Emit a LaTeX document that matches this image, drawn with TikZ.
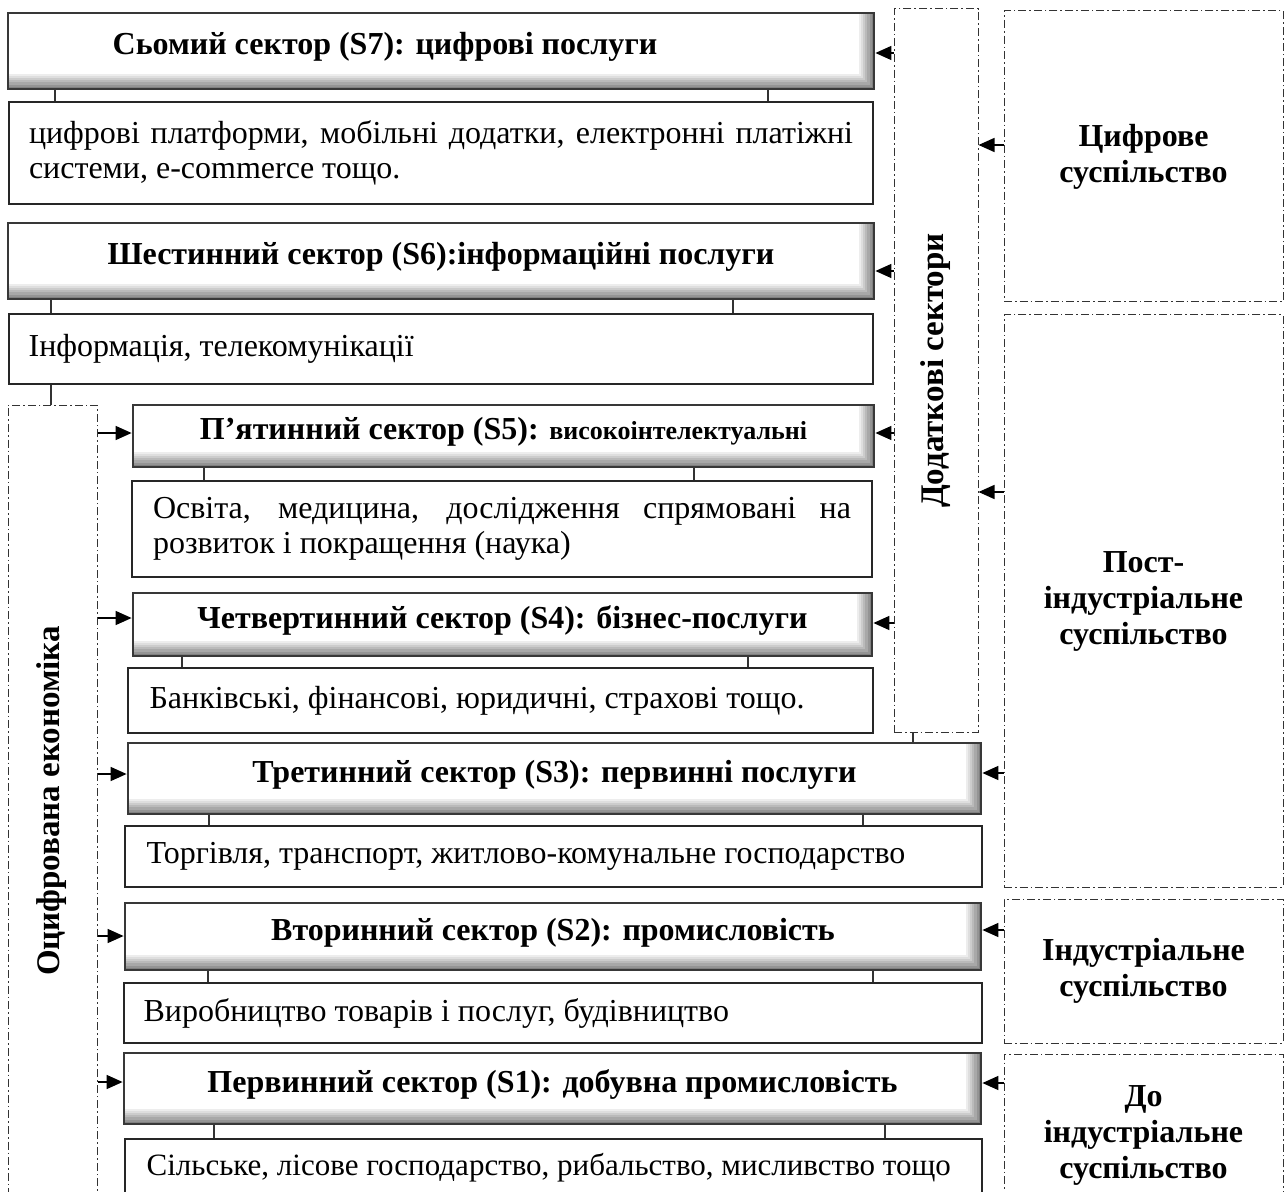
\documentclass[tikz,border=0pt]{standalone}
\usepackage{fontspec}
\setmainfont{Liberation Serif}
\usetikzlibrary{arrows.meta,fit}
\begin{document}
\begin{tikzpicture}[x=0.5pt,y=-0.5pt,
  hdr/.style={draw=black!78, line width=1.4pt, fill=white, inner sep=0pt,
    path picture={
      \foreach \k/\c in {0/50,1.1/42,2.2/34,3.3/27,4.4/20,5.5/13,6.6/7,7.7/0} {
        \fill[black!\c] (path picture bounding box.north west)
          rectangle ([xshift=-\k pt,yshift=\k pt]path picture bounding box.south east);
      }
    }},
  htext/.style={font=\bfseries\fontsize{16}{18}\selectfont, inner sep=0pt},
  desc/.style={draw=black!85, line width=0.8pt, fill=white, inner sep=0pt},
  dtext/.style={font=\fontsize{16}{17.5}\selectfont, inner sep=0pt},
  zone/.style={draw=black!80, line width=0.5pt, inner sep=0pt,
    dash pattern=on 4pt off 1.5pt on 0.8pt off 1.5pt},
  zlabel/.style={font=\bfseries\fontsize{16}{18}\selectfont, align=center, inner sep=0pt},
  arr/.style={-{Triangle[length=8pt,width=7pt]}, line width=0.75pt},
  tick/.style={line width=0.7pt, draw=black!80}
]
\useasboundingbox (0,0) rectangle (1284,1192);
\clip (0,0) rectangle (1284,1192);

% header boxes and descriptions
\node[hdr, fit={(8,13) (874,89)}] (s7) {};
\node[htext] (s7t) at ([xshift=-28pt,yshift=2pt]s7.center) {Сьомий сектор (S7): цифрові послуги};
\node[desc, fit={(9,102) (873,204)}] (d7) {};
\node[dtext, text width=412pt, align=justify] (d7t) at (d7.center)
  {цифрові платформи, мобільні додатки, електронні платіжні\linebreak системи, e-commerce тощо.};

\node[hdr, fit={(8,223) (874,299)}] (s6) {};
\node[htext] (s6t) at ([yshift=2pt]s6.center) {Шестинний сектор (S6):інформаційні послуги};
\node[desc, fit={(9,314) (873,384)}] (d6) {};
\node[dtext, anchor=west] (d6t) at ([xshift=10pt]d6.west) {Інформація, телекомунікації};

\node[hdr, fit={(133,405) (874,467)}] (s5) {};
\node[htext] (s5t) at ([yshift=2pt]s5.center)
  {П’ятинний сектор (S5): {\fontsize{13}{15}\selectfont високоінтелектуальні}};
\node[desc, fit={(132,481) (872,577)}] (d5) {};
\node[dtext, text width=349pt, align=justify] (d5t) at (d5.center)
  {Освіта, медицина, дослідження спрямовані на\linebreak розвиток і покращення (наука)};

\node[hdr, fit={(133,593) (872,656)}] (s4) {};
\node[htext] (s4t) at ([yshift=2pt]s4.center) {Четвертинний сектор (S4): бізнес-послуги};
\node[desc, fit={(128,668) (873,733)}] (d4) {};
\node[dtext, anchor=west] (d4t) at ([xshift=11pt]d4.west) {Банківські, фінансові, юридичні, страхові тощо.};

\node[hdr, fit={(128,743) (981,814)}] (s3) {};
\node[htext] (s3t) at ([yshift=2pt]s3.center) {Третинний сектор (S3): первинні послуги};
\node[desc, fit={(125,826) (982,887)}] (d3) {};
\node[dtext, anchor=west] (d3t) at ([xshift=11pt]d3.west) {Торгівля, транспорт, житлово-комунальне господарство};

\node[hdr, fit={(125,903) (981,970)}] (s2) {};
\node[htext] (s2t) at ([yshift=2pt]s2.center) {Вторинний сектор (S2): промисловість};
\node[desc, fit={(124,983) (982,1043)}] (d2) {};
\node[dtext, anchor=west] (d2t) at ([xshift=10pt]d2.west) {Виробництво товарів і послуг, будівництво};

\node[hdr, fit={(124,1053) (981,1124)}] (s1) {};
\node[htext] (s1t) at ([yshift=2pt]s1.center) {Первинний сектор (S1): добувна промисловість};
\node[desc, fit={(125,1139) (982,1197)}] (d1) {};
\node[dtext, anchor=west, font=\fontsize{15.5}{17.5}\selectfont] (d1t) at ([xshift=11pt]d1.west) {Сільське, лісове господарство, рибальство, мисливство тощо};

% zones
\node[zone, fit={(8,405) (97,1300)}] (econ) {};
\node[zlabel, rotate=90, font=\bfseries\fontsize{16.5}{18}\selectfont] (econlbl) at (52,801) {Оцифрована економіка};
\node[zone, fit={(894,9) (978,732)}] (add) {};
\node[zlabel, rotate=90, font=\bfseries\fontsize{16.5}{18}\selectfont] (addlbl) at (add.center) {Додаткові сектори};
\node[zone, fit={(1004,11) (1283,302)}] (dig) {};
\node[zlabel] (digt) at (dig.center) {Цифрове\\суспільство};
\node[zone, fit={(1004,315) (1283,887)}] (post) {};
\node[zlabel] (postt) at (post.center) {Пост-\\індустріальне\\суспільство};
\node[zone, fit={(1004,899) (1283,1043)}] (ind) {};
\node[zlabel] (indt) at (ind.center) {Індустріальне\\суспільство};
\node[zone, fit={(1004,1054) (1283,1216)}] (pre) {};
\node[zlabel] (pret) at (pre.center) {До\\індустріальне\\суспільство};

% ticks
\draw[tick] (s7.south -| 55,0) -- (d7.north -| 55,0);
\draw[tick] (s7.south -| 768,0) -- (d7.north -| 768,0);
\draw[tick] (s6.south -| 51,0) -- (d6.north -| 51,0);
\draw[tick] (s6.south -| 733,0) -- (d6.north -| 733,0);
\draw[tick] (d6.south -| 51,0) -- (econ.north -| 51,0);
\draw[tick] (s5.south -| 204,0) -- (d5.north -| 204,0);
\draw[tick] (s5.south -| 694,0) -- (d5.north -| 694,0);
\draw[tick] (s4.south -| 182,0) -- (d4.north -| 182,0);
\draw[tick] (s4.south -| 748,0) -- (d4.north -| 748,0);
\draw[tick] (add.south -| 913,0) -- (s3.north -| 913,0);
\draw[tick] (s3.south -| 209,0) -- (d3.north -| 209,0);
\draw[tick] (s3.south -| 863,0) -- (d3.north -| 863,0);
\draw[tick] (s2.south -| 208,0) -- (d2.north -| 208,0);
\draw[tick] (s2.south -| 873,0) -- (d2.north -| 873,0);
\draw[tick] (s1.south -| 214,0) -- (d1.north -| 214,0);
\draw[tick] (s1.south -| 885,0) -- (d1.north -| 885,0);

% arrows from additional sectors
\draw[arr] (add.west |- 0,53) -- (s7.east |- 0,53);
\draw[arr] (add.west |- 0,271) -- (s6.east |- 0,271);
\draw[arr] (add.west |- 0,433) -- (s5.east |- 0,433);
\draw[arr] (add.west |- 0,623) -- (s4.east |- 0,623);
% arrows from society zones
\draw[arr] (dig.west |- 0,145) -- (add.east |- 0,145);
\draw[arr] (post.west |- 0,492) -- (add.east |- 0,492);
\draw[arr] (post.west |- 0,773) -- (s3.east |- 0,773);
\draw[arr] (ind.west |- 0,930) -- (s2.east |- 0,930);
\draw[arr] (pre.west |- 0,1083) -- (s1.east |- 0,1083);
% arrows from digital economy
\draw[arr] (econ.east |- 0,433) -- (s5.west |- 0,433);
\draw[arr] (econ.east |- 0,618) -- (s4.west |- 0,618);
\draw[arr] (econ.east |- 0,774) -- (s3.west |- 0,774);
\draw[arr] (econ.east |- 0,936) -- (s2.west |- 0,936);
\draw[arr] (econ.east |- 0,1082) -- (s1.west |- 0,1082);
\end{tikzpicture}
\end{document}
